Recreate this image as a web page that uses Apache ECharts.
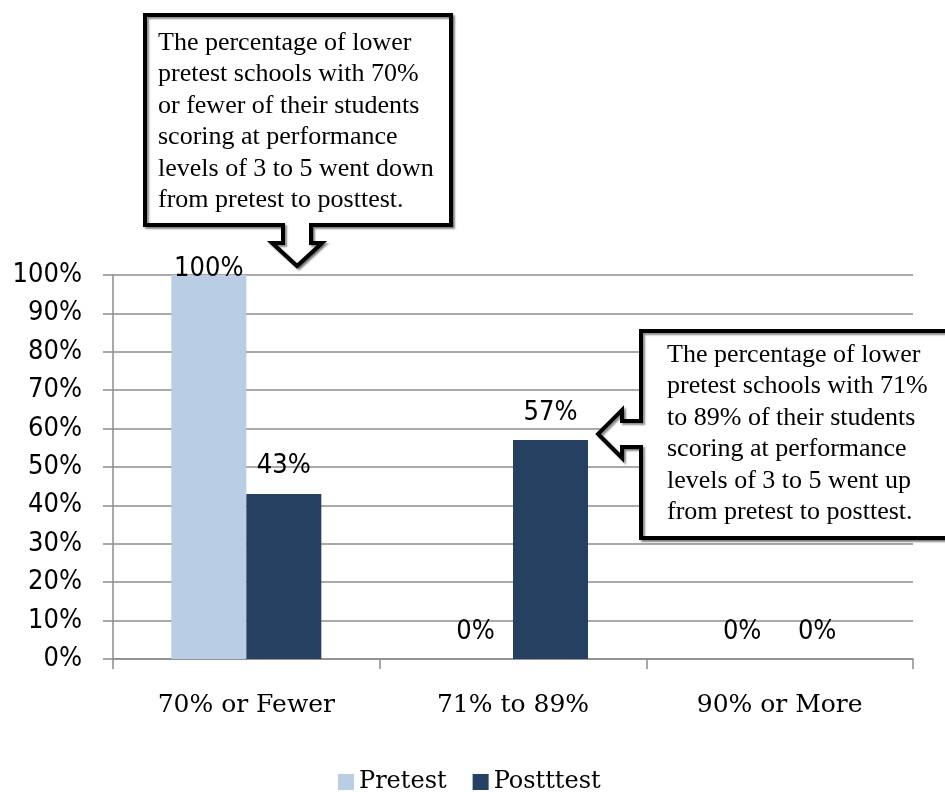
<!DOCTYPE html>
<html>
<head>
<meta charset="utf-8">
<script src="https://cdn.jsdelivr.net/npm/echarts@6/dist/echarts.min.js"></script>
<style>
  html, body { margin: 0; padding: 0; background: #fff; }
  #chart { width: 945px; height: 792px; }
</style>
</head>
<body>
<div id="chart"></div>
<script>
// chart data
var categories = ["70% or Fewer", "71% to 89%", "90% or More"];
var seriesNames = ["Pretest", "Postttest"];
var pretest = [100, 0, 0];
var posttest = [43, 57, 0];
var yTicks = [0, 10, 20, 30, 40, 50, 60, 70, 80, 90, 100];

var note1 = "The percentage of lower\npretest schools with 70%\nor fewer of their students\nscoring at performance\nlevels of 3 to 5 went down\nfrom pretest to posttest.";
var note2 = "The percentage of lower\npretest schools with 71%\nto 89% of their students\nscoring at performance\nlevels of 3 to 5 went up\nfrom pretest to posttest.";

var sansFont = '"DejaVu Sans Condensed", "DejaVu Sans", sans-serif';
var serifFont = '"DejaVu Serif", serif';
var boxFont = '"Liberation Serif", "Times New Roman", serif';
var yMax = yTicks[yTicks.length - 1];

// labels at the very top get pushed down inside the plot, like Excel does
function toData(values) {
  return values.map(function (v) {
    if (v >= yMax) {
      return { value: v, label: { offset: [0, 21] } };
    }
    return v;
  });
}

var labelStyle = {
  show: true,
  position: "top",
  distance: 14,
  formatter: "{c}%",
  color: "#000",
  fontFamily: sansFont,
  fontSize: 27
};

var myChart = echarts.init(document.getElementById("chart"));

myChart.setOption({
  animation: false,
  color: ["#b9cde5", "#254061"],
  grid: {
    left: 113,
    right: 32,
    top: 275,
    bottom: 133
  },
  legend: {
    data: seriesNames,
    left: 333,
    top: 765,
    icon: "rect",
    itemWidth: 16,
    itemHeight: 16,
    itemGap: 26,
    textStyle: {
      color: "#000",
      fontFamily: serifFont,
      fontSize: 24
    }
  },
  xAxis: {
    type: "category",
    data: categories,
    axisLine: { show: true, lineStyle: { color: "#8c8c8c", width: 1.5 } },
    axisTick: { show: true, length: 10, lineStyle: { color: "#8c8c8c", width: 1.5 } },
    axisLabel: {
      color: "#000",
      fontFamily: serifFont,
      fontSize: 25,
      margin: 34
    }
  },
  yAxis: {
    type: "value",
    min: 0,
    max: yMax,
    interval: yTicks[1] - yTicks[0],
    axisLine: { show: true, lineStyle: { color: "#8c8c8c", width: 1.5 } },
    axisTick: { show: true, length: 10, lineStyle: { color: "#8c8c8c", width: 1.5 } },
    splitLine: { show: true, lineStyle: { color: "#8c8c8c", width: 1.5 } },
    axisLabel: {
      color: "#000",
      fontFamily: sansFont,
      fontSize: 27,
      margin: 31,
      formatter: "{value}%"
    }
  },
  series: [
    {
      name: seriesNames[0],
      type: "bar",
      barWidth: 75,
      barGap: "0%",
      data: toData(pretest),
      label: labelStyle
    },
    {
      name: seriesNames[1],
      type: "bar",
      barWidth: 75,
      barGap: "0%",
      data: toData(posttest),
      label: labelStyle
    }
  ],
  graphic: [
    {
      type: "polygon",
      z: 100,
      shape: {
        points: [
          [145, 15], [451, 15], [451, 225], [311, 225], [311, 243], [322, 243],
          [297, 266], [272, 243], [283, 243], [283, 225], [145, 225]
        ]
      },
      style: {
        fill: "#fff",
        stroke: "#000",
        lineWidth: 4,
        shadowColor: "rgba(0,0,0,0.45)",
        shadowBlur: 2,
        shadowOffsetX: 2,
        shadowOffsetY: 2
      }
    },
    {
      type: "text",
      z: 101,
      left: 158,
      top: 27,
      style: {
        text: note1,
        fill: "#000",
        font: "26px " + boxFont,
        lineHeight: 31.5
      }
    },
    {
      type: "polygon",
      z: 100,
      shape: {
        points: [
          [641, 331], [952, 331], [952, 538], [641, 538], [641, 447], [622, 447],
          [622, 458], [598, 434], [622, 410], [622, 421], [641, 421]
        ]
      },
      style: {
        fill: "#fff",
        stroke: "#000",
        lineWidth: 4,
        shadowColor: "rgba(0,0,0,0.45)",
        shadowBlur: 2,
        shadowOffsetX: 2,
        shadowOffsetY: 2
      }
    },
    {
      type: "text",
      z: 101,
      left: 667,
      top: 339,
      style: {
        text: note2,
        fill: "#000",
        font: "26px " + boxFont,
        lineHeight: 31.5
      }
    }
  ]
});
</script>
</body>
</html>
